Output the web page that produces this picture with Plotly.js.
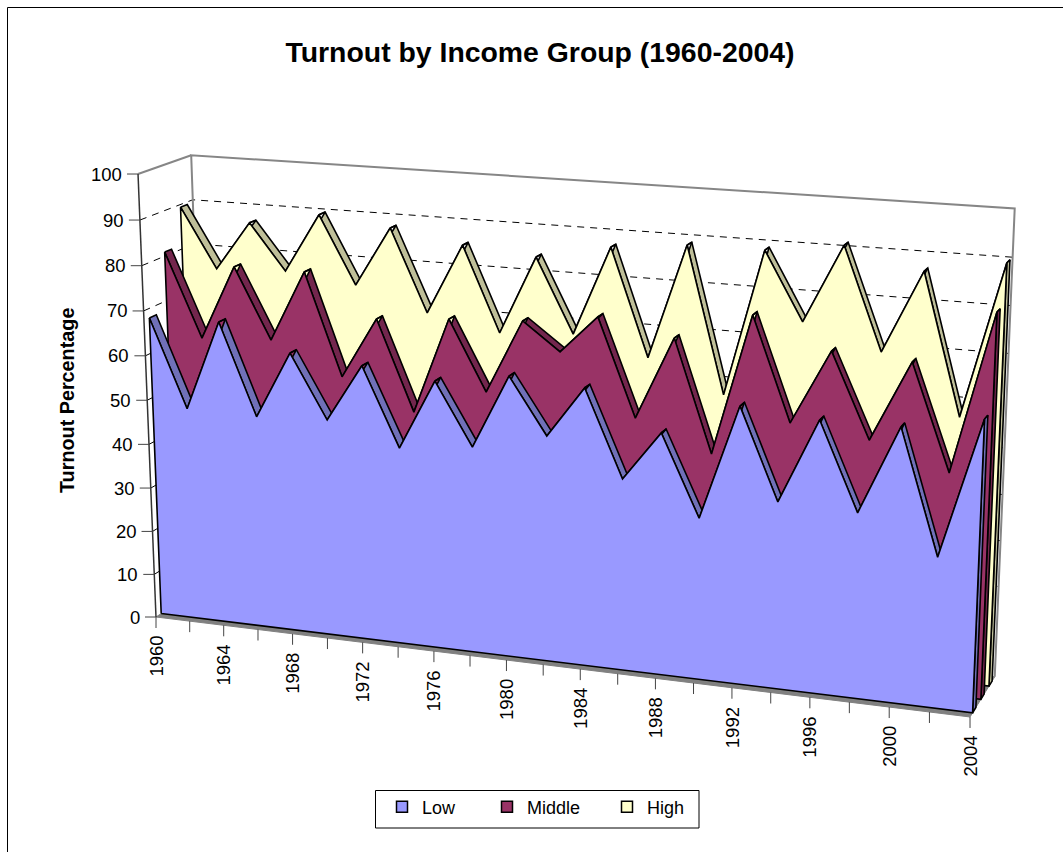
<!DOCTYPE html>
<html>
<head>
<meta charset="utf-8">
<script src="https://cdn.plot.ly/plotly-3.0.1.min.js"></script>
<style>html,body{margin:0;padding:0;background:#fff}#chart{width:1063px;height:852px}</style>
</head>
<body>
<div id="chart"></div>
<script>
// ---------- data ----------
const years = [1960,1962,1964,1966,1968,1970,1972,1974,1976,1978,1980,1982,1984,1986,1988,1990,1992,1994,1996,1998,2000,2002,2004];
const low    = [67.9,48.2,68.3,47.9,62.8,48.7,61.4,44.0,59.5,45.8,62.0,49.8,60.9,42.1,52.8,35.3,60.0,40.5,58.6,39.9,58.7,32.3,61.8];
const middle = [80.9,62.2,78.8,63.1,78.9,56.3,69.8,49.9,71.1,55.8,72.0,66.0,74.2,53.1,71.0,46.9,77.2,55.1,71.0,53.0,70.1,47.7,81.7];
const high   = [89.4,76.1,87.0,76.8,89.9,74.9,88.1,70.0,85.5,66.9,84.1,68.0,87.4,64.2,89.0,57.6,89.1,74.6,91.3,69.6,87.1,57.3,90.0];
const valueTicks = [0,10,20,30,40,50,60,70,80,90,100];
const gridValues = [10,20,30,40,50,60,70,80,90];
const yearLabels = [1960,1964,1968,1972,1976,1980,1984,1988,1992,1996,2000,2004];

// ---------- perspective of the 3-D box (year, value, depth -> page) ----------
const O = [156,617];
const vpX = [-7799,-360], kX = -0.09283;
const vpY = [566,10726],  kY = -0.04198;
const vpZ = [1626,-350],  kZ = 0.0355;
function proj(year, value, depth){
  const X=(year-years[0])/(years[years.length-1]-years[0])*kX, Y=value/100*kY, Z=depth*kZ;
  const w=1+X+Y+Z;
  return [(X*vpX[0]+Y*vpY[0]+Z*vpZ[0]+O[0])/w,(X*vpX[1]+Y*vpY[1]+Z*vpZ[1]+O[1])/w];
}
const Y0=years[0], Y1=years[years.length-1];
function polyline(list){ // list of paths, each a list of [year,value,depth]
  const x=[],y=[];
  list.forEach((path,i)=>{ if(i){x.push(null);y.push(null);} path.forEach(p=>{const q=proj(p[0],p[1],p[2]);x.push(q[0]);y.push(q[1]);}); });
  return {x,y};
}
const traces=[];
function add(list,opt){ traces.push(Object.assign({type:'scatter',mode:'lines',hoverinfo:'skip',showlegend:false},polyline(list),opt)); }

// floor
add([[[Y0,0,0],[Y1,0,0],[Y1,0,1],[Y0,0,1],[Y0,0,0]]],{fill:'toself',fillcolor:'#808080',line:{color:'#808080',width:1}});
// gridlines on side and back wall
add(gridValues.map(v=>[[Y0,v,0],[Y0,v,1],[Y1,v,1]]),{line:{color:'#000',width:1,dash:'7px,6px'}});
// wall outlines
add([[[Y0,0,1],[Y0,100,1],[Y1,100,1],[Y1,0,1]],[[Y0,100,0],[Y0,100,1]]],{line:{color:'#868686',width:2}});
add([[[Y0,0,0],[Y0,100,0]]],{line:{color:'#333',width:1.5}});

// series slabs, back to front
const series=[
 {name:'High',  v:high,  z:0.76,face:'#FFFFCC',top:'#BFBF99'},
 {name:'Middle',v:middle,z:0.43,face:'#993366',top:'#73264D'},
 {name:'Low',   v:low,   z:0.10,face:'#9999FF',top:'#7070B8'}
];
const slabDepth=0.13, edge={color:'#000',width:1.6};
series.forEach(s=>{
  const z0=s.z,z1=s.z+slabDepth,n=years.length;
  const quads=[];
  for(let i=0;i<n-1;i++) quads.push([[years[i],s.v[i],z0],[years[i+1],s.v[i+1],z0],[years[i+1],s.v[i+1],z1],[years[i],s.v[i],z1],[years[i],s.v[i],z0]]);
  add(quads,{fill:'toself',fillcolor:s.top,line:edge});
  add([[[Y1,s.v[n-1],z0],[Y1,s.v[n-1],z1],[Y1,0,z1],[Y1,0,z0],[Y1,s.v[n-1],z0]]],{fill:'toself',fillcolor:s.top,line:edge});
  const face=[[Y0,0,z0]].concat(years.map((yr,i)=>[yr,s.v[i],z0]),[[Y1,0,z0],[Y0,0,z0]]);
  add([face],{fill:'toself',fillcolor:s.face,line:edge});
});

// ticks
const tickTr={x:[],y:[]};
valueTicks.forEach(v=>{const p=proj(Y0,v,0);tickTr.x.push(p[0]-11,p[0],null);tickTr.y.push(p[1],p[1],null);});
years.forEach(yr=>{const p=proj(yr,0,0);tickTr.x.push(p[0],p[0],null);tickTr.y.push(p[1],p[1]+11,null);});
traces.push({type:'scatter',mode:'lines',hoverinfo:'skip',showlegend:false,x:tickTr.x,y:tickTr.y,line:{color:'#444',width:1}});

// legend keys
[['Low','#9999FF','legend'],['Middle','#993366','legend2'],['High','#FFFFCC','legend3']].forEach(k=>{
  traces.push({type:'scatter',mode:'markers',name:k[0],legend:k[2],x:[null],y:[null],hoverinfo:'skip',showlegend:true,
    marker:{symbol:'square',size:11,color:k[1],line:{color:'#000',width:1.5}}});
});

const font='"Liberation Sans", Arial, sans-serif';
const annotations=[];
valueTicks.forEach(v=>{const p=proj(Y0,v,0);annotations.push({x:p[0]-14,y:p[1],xref:'x',yref:'y',text:String(v),showarrow:false,xanchor:'right',yanchor:'middle',font:{family:font,size:18.5,color:'#000'}});});
yearLabels.forEach(yr=>{const p=proj(yr,0,0);annotations.push({x:p[0],y:p[1]+17,xref:'x',yref:'y',text:String(yr),textangle:-90,showarrow:false,xanchor:'center',yanchor:'top',font:{family:font,size:18.5,color:'#000'}});});
annotations.push({x:67,y:401,xref:'x',yref:'y',text:'<b>Turnout Percentage</b>',textangle:-90,showarrow:false,xanchor:'center',yanchor:'middle',font:{family:font,size:19.8,color:'#000'}});

function legendAt(px){
  return {orientation:'h',x:px/1063,xanchor:'left',y:1-807/852,yanchor:'middle',font:{family:font,size:18,color:'#000'},bgcolor:'rgba(0,0,0,0)',borderwidth:0,itemclick:false,itemdoubleclick:false};
}
const layout={
  width:1063,height:852,margin:{l:0,r:0,t:0,b:0},autosize:false,
  paper_bgcolor:'#fff',plot_bgcolor:'rgba(0,0,0,0)',
  title:{text:'<b>Turnout by Income Group (1960-2004)</b>',font:{family:font,size:28.4,color:'#000'},x:540/1063,xanchor:'center',xref:'paper',y:1-52/852,yanchor:'middle',yref:'paper'},
  xaxis:{range:[0,1063],visible:false,fixedrange:true},
  yaxis:{range:[852,0],visible:false,fixedrange:true},
  showlegend:true,
  legend:legendAt(382),legend2:legendAt(487),legend3:legendAt(607),
  shapes:[
    {type:'rect',xref:'x',yref:'y',x0:375.5,x1:699,y0:790.5,y1:828,line:{color:'#000',width:1},fillcolor:'rgba(0,0,0,0)',layer:'below'},
    {type:'line',xref:'x',yref:'y',x0:7.5,x1:7.5,y0:7.5,y1:852,line:{color:'#000',width:1}},
    {type:'line',xref:'x',yref:'y',x0:7.5,x1:1063,y0:7.5,y1:7.5,line:{color:'#000',width:1}}
  ],
  annotations
};
Plotly.newPlot('chart',traces,layout,{displayModeBar:false,staticPlot:true});
</script>
</body>
</html>
